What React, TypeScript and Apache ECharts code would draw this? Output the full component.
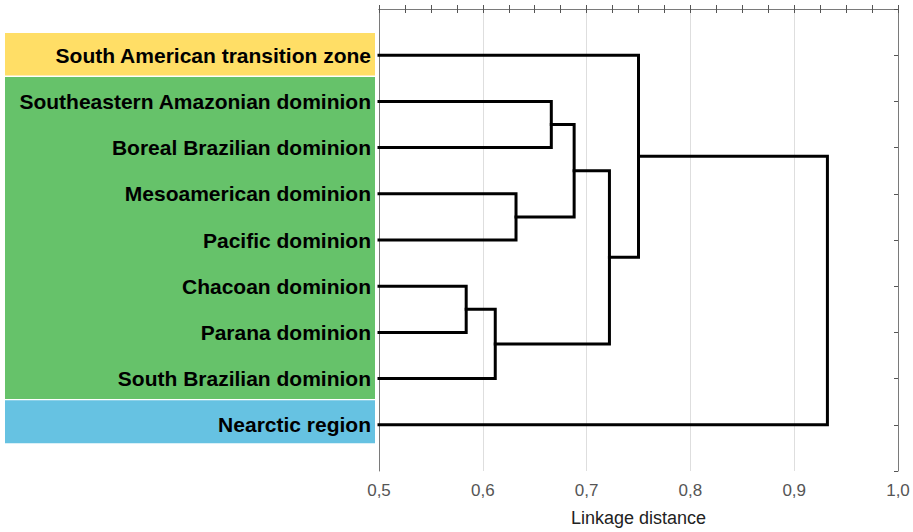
import React, { useEffect, useRef } from "react";
import * as echarts from "echarts";

// Leaves, top to bottom
const leaves: string[] = [
  "South American transition zone",
  "Southeastern Amazonian dominion",
  "Boreal Brazilian dominion",
  "Mesoamerican dominion",
  "Pacific dominion",
  "Chacoan dominion",
  "Parana dominion",
  "South Brazilian dominion",
  "Nearctic region",
];

// Merges: [left child, right child, linkage distance]; children are leaf names or merge ids "m0".."m7"
const merges: [string, string, number][] = [
  ["Chacoan dominion", "Parana dominion", 0.584],
  ["m0", "South Brazilian dominion", 0.612],
  ["Mesoamerican dominion", "Pacific dominion", 0.632],
  ["Southeastern Amazonian dominion", "Boreal Brazilian dominion", 0.666],
  ["m3", "m2", 0.688],
  ["m4", "m1", 0.722],
  ["South American transition zone", "m5", 0.75],
  ["m6", "Nearctic region", 0.932],
];

// Region groups: [first leaf, last leaf, colour]
const groups: [string, string, string][] = [
  ["South American transition zone", "South American transition zone", "#FFDE66"],
  ["Southeastern Amazonian dominion", "South Brazilian dominion", "#66C26A"],
  ["Nearctic region", "Nearctic region", "#66C2E2"],
];

const xTicks: string[] = ["0,5", "0,6", "0,7", "0,8", "0,9", "1,0"];
const xMin = 0.5;
const xMax = 1.0;
const xTitle = "Linkage distance";

function buildSegments() {
  const pos: Record<string, { x: number; y: number }> = {};
  leaves.forEach((l, i) => (pos[l] = { x: xMin, y: i + 1 }));
  const segs: number[][][] = [];
  merges.forEach(([a, b, h], k) => {
    const pa = pos[a];
    const pb = pos[b];
    segs.push([
      [pa.x, pa.y],
      [h, pa.y],
      [h, pb.y],
      [pb.x, pb.y],
    ]);
    pos["m" + k] = { x: h, y: (pa.y + pb.y) / 2 };
  });
  return segs;
}

export default function App() {
  const ref = useRef<HTMLDivElement>(null);
  useEffect(() => {
    if (!ref.current) return;
    const chart = echarts.init(ref.current, null, { renderer: "svg" });
    const segs = buildSegments();
    const axisGrey = "#7a7a7a";
    const font = "'Liberation Sans', Arial, sans-serif";
    const fmtX = (v: number) => {
      const i = Math.round((v - xMin) * 10);
      return xTicks[i] ?? "";
    };
    chart.setOption({
      animation: false,
      backgroundColor: "#fff",
      grid: { left: 379, right: 15, top: 9, bottom: 61, containLabel: false },
      xAxis: [
        {
          type: "value",
          min: xMin,
          max: xMax,
          interval: 0.1,
          position: "bottom",
          name: xTitle,
          nameLocation: "middle",
          nameGap: 38,
          nameTextStyle: { fontFamily: font, fontSize: 18, color: "#222" },
          axisLine: { show: true, lineStyle: { color: axisGrey, width: 1 } },
          axisTick: { show: true, inside: true, length: 4, lineStyle: { color: "#555" } },
          minorTick: { show: true, splitNumber: 4, length: 4, lineStyle: { color: "#555" } },
          splitLine: { show: true, lineStyle: { color: "#dedede", width: 1 } },
          axisLabel: { formatter: fmtX, fontFamily: font, fontSize: 17, color: "#555", margin: 11 },
        },
        {
          type: "value",
          min: xMin,
          max: xMax,
          interval: 0.1,
          position: "top",
          axisLine: { show: true, lineStyle: { color: axisGrey, width: 1 } },
          axisTick: { show: true, inside: true, length: 4, lineStyle: { color: "#555" } },
          minorTick: { show: true, splitNumber: 4, length: 4, lineStyle: { color: "#555" } },
          splitLine: { show: false },
          axisLabel: { show: false },
        },
      ],
      yAxis: [
        {
          type: "value",
          min: 0,
          max: leaves.length + 1,
          interval: 1,
          inverse: true,
          position: "left",
          axisLine: { show: true, lineStyle: { color: axisGrey, width: 1 } },
          axisTick: { show: false },
          splitLine: { show: false },
          axisLabel: {
            formatter: (v: number) => leaves[v - 1] ?? "",
            fontFamily: font,
            fontSize: 21,
            fontWeight: "bold",
            color: "#000",
            margin: 8,
          },
        },
        {
          type: "value",
          min: 0,
          max: leaves.length + 1,
          interval: 1,
          inverse: true,
          position: "right",
          axisLine: { show: true, lineStyle: { color: axisGrey, width: 1 } },
          axisTick: { show: true, inside: true, length: 4, lineStyle: { color: "#555" } },
          splitLine: { show: false },
          axisLabel: { show: false },
        },
      ],
      series: segs.map((s) => ({
        type: "line",
        xAxisIndex: 0,
        yAxisIndex: 0,
        data: s,
        symbol: "none",
        clip: false,
        z: 5,
        lineStyle: { color: "#000", width: 3, join: "miter", cap: "square" },
      })),
    });

    // coloured boxes behind the labels, positioned through the y scale
    const leftEdge = 5;
    const rightEdge = 375;
    const graphics = groups.map(([a, b, color], gi) => {
      const ia = leaves.indexOf(a) + 1;
      const ib = leaves.indexOf(b) + 1;
      const topV = ia - (gi === 0 ? 0.48 : 0.53);
      const botV = ib + (gi === groups.length - 1 ? 0.4 : 0.44);
      const y0 = chart.convertToPixel({ yAxisIndex: 0 }, topV) as number;
      const y1 = chart.convertToPixel({ yAxisIndex: 0 }, botV) as number;
      return {
        type: "rect",
        shape: { x: leftEdge, y: y0, width: rightEdge - leftEdge, height: y1 - y0 },
        style: { fill: color },
        z: -10,
        silent: true,
      };
    });
    chart.setOption({ graphic: graphics });

    return () => chart.dispose();
  }, []);
  return <div ref={ref} style={{ width: 913, height: 532, position: "absolute", left: 0, top: 0 }} />;
}
